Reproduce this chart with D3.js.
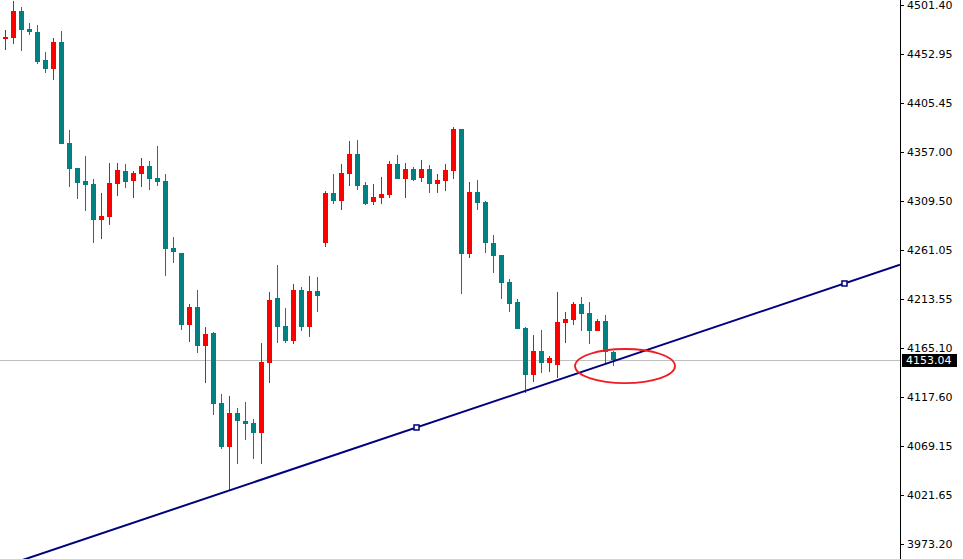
<!DOCTYPE html>
<html>
<head>
  <meta charset="UTF-8">
  <title>Candlestick chart</title>
  <script src="https://d3js.org/d3.v7.min.js"></script>
  <style>
    body { margin: 0; background: #fff; }
    svg { display: block; }
    .tick-label { font-family: "DejaVu Sans", sans-serif; font-size: 11px; fill: #000; }
    .price-label { font-family: "DejaVu Sans", sans-serif; font-size: 11px; fill: #fff; }
  </style>
</head>
<body>
<div id="chart"></div>
<script>
// candle data, one entry per bar
const opens = [4468.4,4469.4,4495.5,4477.9,4474.9,4447.5,4439.0,4465.1,4366.2,4341.7,
  4328.9,4326.0,4291.0,4293.9,4326.3,4338.7,4329.2,4336.1,4343.6,4331.9,
  4328.9,4263.5,4258.4,4188.1,4205.4,4167.5,4180.2,4111.4,4068.6,4101.6,
  4093.7,4091.8,4082.3,4150.9,4214.3,4186.8,4172.1,4222.1,4186.1,4221.1,
  4268.5,4317.2,4309.6,4336.1,4355.4,4325.0,4308.6,4312.6,4315.5,4345.6,
  4331.2,4340.7,4332.2,4340.7,4326.3,4329.2,4339.0,4379.9,4257.7,4318.1,
  4308.6,4268.5,4256.7,4229.9,4210.6,4185.2,4139.1,4162.6,4150.9,4148.9,
  4190.1,4193.0,4208.7,4199.8,4182.2,4192.0,4161.6];
const highs = [4476.9,4505.0,4499.4,4483.8,4481.8,4455.3,4469.1,4475.9,4378.9,4341.7,
  4353.4,4330.9,4317.2,4346.6,4346.6,4345.6,4338.7,4351.5,4348.5,4363.2,
  4335.8,4274.0,4258.4,4208.7,4222.1,4185.8,4180.9,4120.2,4118.2,4106.5,
  4112.3,4095.7,4170.2,4220.1,4246.6,4204.5,4228.0,4225.1,4235.8,4234.8,
  4319.1,4335.8,4345.6,4368.1,4369.1,4327.9,4326.0,4332.8,4348.5,4354.4,
  4346.6,4342.6,4349.5,4344.6,4335.8,4345.6,4381.8,4379.9,4327.9,4329.9,
  4309.6,4276.3,4256.7,4232.9,4213.6,4186.1,4178.3,4183.2,4157.7,4220.4,
  4200.8,4210.6,4215.5,4210.6,4194.0,4198.0,4162.6];
const lows = [4457.3,4463.5,4456.6,4472.3,4443.9,4435.1,4428.2,4365.5,4323.3,4311.3,
  4299.8,4268.5,4272.4,4286.1,4314.5,4322.4,4312.6,4323.3,4320.4,4324.3,
  4236.1,4248.9,4182.9,4171.1,4160.7,4131.2,4099.9,4066.6,4025.5,4051.9,
  4075.4,4056.8,4051.9,4131.2,4170.5,4170.5,4169.2,4181.9,4176.0,4200.5,
  4264.5,4306.7,4300.8,4324.3,4320.4,4305.7,4305.7,4306.7,4312.6,4331.2,
  4312.6,4329.2,4328.2,4317.5,4317.5,4319.4,4331.2,4218.5,4253.8,4300.8,
  4258.7,4239.0,4213.6,4200.8,4183.6,4121.5,4132.2,4141.0,4142.0,4136.2,
  4170.5,4188.1,4182.2,4169.5,4182.2,4148.9,4147.9];
const closes = [4470.0,4495.5,4477.2,4475.2,4445.8,4439.0,4465.1,4365.5,4341.0,4327.3,
  4325.3,4291.0,4294.6,4327.0,4339.7,4328.2,4336.8,4343.6,4331.2,4328.2,
  4262.6,4259.6,4188.1,4205.4,4167.5,4179.0,4110.7,4068.6,4101.6,4094.0,
  4091.0,4082.3,4151.5,4212.3,4186.1,4172.1,4222.1,4186.1,4221.1,4216.2,
  4317.2,4309.6,4336.8,4355.4,4324.3,4306.7,4313.2,4316.2,4345.6,4331.2,
  4340.7,4330.2,4340.7,4326.3,4330.2,4339.7,4379.9,4257.7,4318.1,4307.7,
  4268.5,4255.7,4228.9,4208.7,4183.6,4139.1,4162.6,4150.9,4155.8,4191.0,
  4194.0,4208.7,4198.9,4182.2,4192.0,4161.6,4153.04];

// price axis labels
const tickValues = [4501.40,4452.95,4405.45,4357.00,4309.50,4261.05,4213.55,4165.10,4117.60,4069.15,4021.65,3973.20];
const tickLabels = ["4501.40","4452.95","4405.45","4357.00","4309.50","4261.05","4213.55","4165.10","4117.60","4069.15","4021.65","3973.20"];

const currentPrice = 4153.04;
// trend line anchors: [bar index, price]
const trendAnchors = [[51.375, 4087.4], [104.875, 4228.5]];
// highlight ellipse: centre [bar index, price], half width in bars, half height in price
const markCenter = [77.44, 4147.6];
const markRadius = [6.25, 16.7];

const width = 963, height = 559;
const axisX = 900;

const bars = opens.map((o, i) => ({ i, o, h: highs[i], l: lows[i], c: closes[i] }));

const x = d3.scaleLinear().domain([0, 76]).range([5.5, 613.5]);
const y = d3.scaleLinear().domain([3973.20, 4501.40]).range([544, 5]);

const svg = d3.select("#chart").append("svg")
  .attr("width", width)
  .attr("height", height);

svg.append("rect").attr("width", width).attr("height", height).attr("fill", "#fff");

svg.append("clipPath").attr("id", "plot")
  .append("rect").attr("x", 0).attr("y", 0).attr("width", axisX).attr("height", height);

const plot = svg.append("g").attr("clip-path", "url(#plot)");

// current price line
plot.append("line")
  .attr("x1", 0).attr("x2", axisX)
  .attr("y1", Math.round(y(currentPrice)) + 0.5)
  .attr("y2", Math.round(y(currentPrice)) + 0.5)
  .attr("stroke", "#c0c0c0").attr("stroke-width", 1);

// candles
const up = "#ff0000", down = "#008080";
const candle = plot.append("g").attr("shape-rendering", "crispEdges")
  .selectAll("g").data(bars).enter().append("g");

candle.append("rect")
  .attr("x", d => Math.floor(x(d.i)))
  .attr("y", d => Math.round(y(d.h)))
  .attr("width", 1)
  .attr("height", d => Math.max(1, Math.round(y(d.l)) - Math.round(y(d.h))))
  .attr("fill", d => d.c >= d.o ? up : down);

candle.append("rect")
  .attr("x", d => Math.floor(x(d.i)) - 2)
  .attr("y", d => Math.round(y(Math.max(d.o, d.c))))
  .attr("width", 5)
  .attr("height", d => Math.max(1, Math.round(y(Math.min(d.o, d.c))) - Math.round(y(Math.max(d.o, d.c)))))
  .attr("fill", d => d.c >= d.o ? up : down);

// trend line extended across the plot
const [a, b] = trendAnchors;
const slope = (b[1] - a[1]) / (b[0] - a[0]);
const priceAt = i => a[1] + (i - a[0]) * slope;
const iLeft = x.invert(0), iRight = x.invert(axisX);
plot.append("line")
  .attr("x1", 0).attr("y1", y(priceAt(iLeft)))
  .attr("x2", axisX).attr("y2", y(priceAt(iRight)))
  .attr("stroke", "#000080").attr("stroke-width", 2);

plot.selectAll(".anchor").data(trendAnchors).enter().append("rect")
  .attr("class", "anchor")
  .attr("x", d => x(d[0]) - 2.5).attr("y", d => y(d[1]) - 2.5)
  .attr("width", 5).attr("height", 5)
  .attr("fill", "#fff").attr("stroke", "#000080").attr("stroke-width", 1.5);

// red ellipse
const pxPerBar = x(1) - x(0);
plot.append("ellipse")
  .attr("cx", x(markCenter[0])).attr("cy", y(markCenter[1]))
  .attr("rx", markRadius[0] * pxPerBar)
  .attr("ry", y(markCenter[1] - markRadius[1]) - y(markCenter[1]))
  .attr("fill", "none").attr("stroke", "#ee1c24").attr("stroke-width", 1.8);

// price axis
svg.append("line")
  .attr("x1", axisX + 0.5).attr("x2", axisX + 0.5)
  .attr("y1", 0).attr("y2", height)
  .attr("stroke", "#000").attr("stroke-width", 1);

const ticks = svg.append("g").selectAll("g").data(tickValues).enter().append("g")
  .attr("transform", d => `translate(0,${Math.round(y(d)) + 0.5})`);
ticks.append("line")
  .attr("x1", axisX + 1).attr("x2", axisX + 4)
  .attr("stroke", "#000").attr("shape-rendering", "crispEdges");
ticks.append("text")
  .attr("class", "tick-label")
  .attr("x", 907).attr("dy", "0.36em")
  .text((d, i) => tickLabels[i]);

// current price tag
const cy = Math.round(y(currentPrice));
svg.append("rect")
  .attr("x", 902).attr("y", cy - 6).attr("width", 55).attr("height", 13)
  .attr("fill", "#000");
svg.append("text")
  .attr("class", "price-label")
  .attr("x", 906).attr("y", cy + 0.5).attr("dy", "0.36em")
  .text(currentPrice.toFixed(2));
</script>
</body>
</html>
